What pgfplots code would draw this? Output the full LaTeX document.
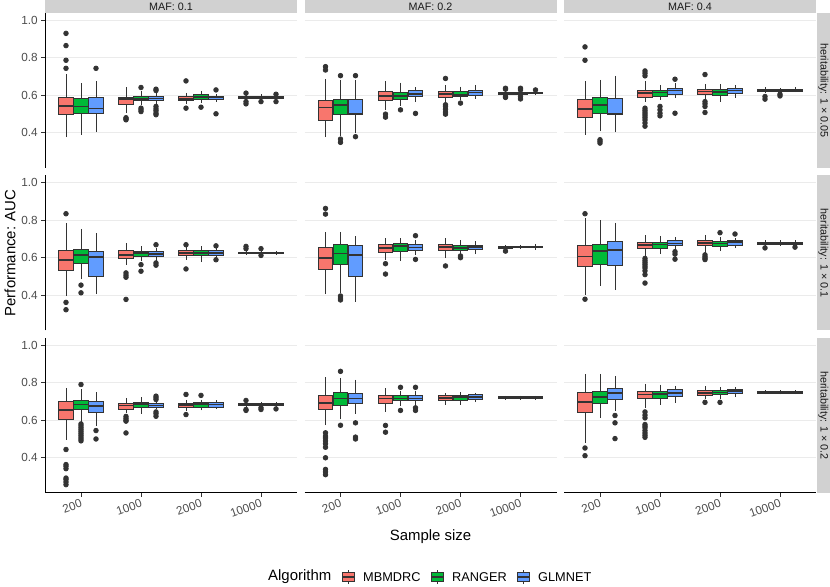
\documentclass[border=0pt]{standalone}
\usepackage{pgfplots}
\pgfplotsset{compat=1.18}
\usepgfplotslibrary{statistics}
\usepackage{fontspec}
\setmainfont{Liberation Sans}

\definecolor{cM}{HTML}{F8766D}
\definecolor{cR}{HTML}{00BA38}
\definecolor{cG}{HTML}{619CFF}
\definecolor{dk}{HTML}{333333}
\definecolor{tk}{HTML}{4D4D4D}
\definecolor{gr}{HTML}{EBEBEB}
\definecolor{st}{HTML}{D1D1D1}

% one box: colour, position, lower whisker, q1, median, q3, upper whisker, outliers
\newcommand{\bx}[8]{%
  \addplot[draw=dk, line width=0.8bp, fill=#1, mark=*, mark size=2.3bp,
    mark options={draw=dk, fill=dk},
    boxplot prepared={draw direction=y, draw position=#2, lower whisker=#3,
      lower quartile=#4, median=#5, upper quartile=#6, upper whisker=#7,
      box extend=0.24, whisker extend=0}]
  coordinates {#8};}

\pgfplotsset{
  panel/.style={
    scale only axis, width=252bp, height=155bp,
    xmin=0.4, xmax=4.6, ymin=0.2125, ymax=1.0375,
    axis line style={draw=none},
    xtick pos=left, ytick pos=left,
    xtick={1,2,3,4}, ytick={0.4,0.6,0.8,1.0},
    xticklabels={}, yticklabels={},
    xtick style={draw=none}, ytick style={draw=none},
    tick align=outside, major tick length=3.7bp,
    ymajorgrids, major grid style={draw=gr, line width=0.9bp},
    boxplot/every median/.style={draw=dk, line width=1.7bp},
    anchor=south west,
  },
  leftax/.style={
    ytick style={draw=dk, line width=1bp},
    yticklabels={0.4,0.6,0.8,1.0},
    yticklabel style={font=\fontsize{11.8}{12}\selectfont, text=tk},
    extra description/.append code={
      \draw[black, line width=1bp] (axis description cs:0,0) -- (axis description cs:0,1);},
  },
  bottomax/.style={
    xtick style={draw=dk, line width=1bp},
    xticklabels={200,1000,2000,10000},
    xticklabel style={font=\fontsize{11.8}{12}\selectfont, text=tk,
      rotate=20, anchor=north east, inner sep=1.5bp},
    extra description/.append code={
      \draw[black, line width=1bp] (axis description cs:0,0) -- (axis description cs:1,0);},
  },
}

\begin{document}
\begin{tikzpicture}
\path[use as bounding box] (0,0) rectangle (830bp,587bp);

% ---- row 1: heritability 0.05 ----
\begin{axis}[panel, leftax, at={(45bp,419bp)}]
\bx{cM}{0.75}{0.375}{0.496}{0.543}{0.589}{0.713}{(0,0.929)(0,0.864)(0,0.786)(0,0.743)}
\bx{cR}{1}{0.389}{0.501}{0.540}{0.581}{0.664}{}
\bx{cG}{1.25}{0.403}{0.501}{0.529}{0.588}{0.673}{(0,0.743)}
\bx{cM}{1.75}{0.504}{0.552}{0.581}{0.588}{0.641}{(0,0.480)(0,0.474)(0,0.469)}
\bx{cR}{2}{0.549}{0.570}{0.581}{0.595}{0.620}{(0,0.641)(0,0.531)(0,0.522)(0,0.513)}
\bx{cG}{2.25}{0.550}{0.572}{0.582}{0.595}{0.620}{(0,0.632)(0,0.625)(0,0.540)(0,0.527)(0,0.517)(0,0.504)(0,0.496)}
\bx{cM}{2.75}{0.554}{0.570}{0.579}{0.596}{0.614}{(0,0.676)(0,0.531)}
\bx{cR}{3}{0.558}{0.575}{0.589}{0.602}{0.623}{(0,0.536)}
\bx{cG}{3.25}{0.566}{0.577}{0.588}{0.596}{0.607}{(0,0.628)(0,0.501)}
\bx{cM}{3.75}{0.575}{0.582}{0.588}{0.593}{0.600}{(0,0.611)(0,0.566)(0,0.554)}
\bx{cR}{4}{0.572}{0.582}{0.588}{0.593}{0.605}{(0,0.566)}
\bx{cG}{4.25}{0.575}{0.583}{0.588}{0.593}{0.600}{(0,0.605)(0,0.566)}
\end{axis}

\begin{axis}[panel, at={(304.5bp,419bp)}]
\bx{cM}{0.75}{0.375}{0.466}{0.535}{0.570}{0.687}{(0,0.752)(0,0.734)}
\bx{cR}{1}{0.381}{0.499}{0.549}{0.579}{0.681}{(0,0.704)(0,0.366)(0,0.349)}
\bx{cG}{1.25}{0.398}{0.499}{0.503}{0.575}{0.681}{(0,0.704)(0,0.379)}
\bx{cM}{1.75}{0.519}{0.572}{0.595}{0.618}{0.673}{(0,0.499)(0,0.483)}
\bx{cR}{2}{0.543}{0.579}{0.596}{0.614}{0.667}{(0,0.522)}
\bx{cG}{2.25}{0.563}{0.591}{0.607}{0.623}{0.642}{(0,0.503)}
\bx{cM}{2.75}{0.566}{0.589}{0.605}{0.619}{0.655}{(0,0.689)(0,0.549)(0,0.540)(0,0.525)(0,0.510)(0,0.499)}
\bx{cR}{3}{0.575}{0.595}{0.602}{0.618}{0.646}{(0,0.558)}
\bx{cG}{3.25}{0.582}{0.600}{0.614}{0.625}{0.655}{}
\bx{cM}{3.75}{0.598}{0.606}{0.611}{0.615}{0.624}{(0,0.637)(0,0.632)(0,0.593)(0,0.588)}
\bx{cR}{4}{0.600}{0.606}{0.611}{0.615}{0.622}{(0,0.637)(0,0.628)(0,0.593)(0,0.580)}
\bx{cG}{4.25}{0.602}{0.607}{0.611}{0.615}{0.620}{(0,0.628)}
\end{axis}

\begin{axis}[panel, at={(564bp,419bp)}]
\bx{cM}{0.75}{0.389}{0.480}{0.527}{0.579}{0.673}{(0,0.857)(0,0.786)}
\bx{cR}{1}{0.407}{0.503}{0.549}{0.588}{0.681}{(0,0.363)(0,0.354)(0,0.345)}
\bx{cG}{1.25}{0.402}{0.498}{0.501}{0.584}{0.704}{}
\bx{cM}{1.75}{0.566}{0.589}{0.611}{0.628}{0.673}{(0,0.729)(0,0.717)(0,0.703)(0,0.531)(0,0.520)(0,0.510)(0,0.500)(0,0.490)(0,0.480)(0,0.468)(0,0.452)(0,0.435)}
\bx{cR}{2}{0.575}{0.593}{0.614}{0.623}{0.655}{(0,0.540)(0,0.522)(0,0.504)(0,0.490)}
\bx{cG}{2.25}{0.584}{0.605}{0.625}{0.635}{0.664}{(0,0.685)(0,0.504)}
\bx{cM}{2.75}{0.579}{0.602}{0.620}{0.632}{0.660}{(0,0.710)(0,0.566)(0,0.554)(0,0.540)(0,0.508)}
\bx{cR}{3}{0.566}{0.600}{0.618}{0.632}{0.657}{}
\bx{cG}{3.25}{0.584}{0.609}{0.625}{0.637}{0.655}{}
\bx{cM}{3.75}{0.611}{0.620}{0.627}{0.632}{0.642}{(0,0.593)(0,0.579)}
\bx{cR}{4}{0.614}{0.621}{0.627}{0.631}{0.639}{(0,0.605)(0,0.596)}
\bx{cG}{4.25}{0.616}{0.622}{0.627}{0.631}{0.641}{}
\end{axis}

% ---- row 2: heritability 0.1 ----
\begin{axis}[panel, leftax, at={(45bp,256.5bp)}]
\bx{cM}{0.75}{0.396}{0.531}{0.588}{0.639}{0.783}{(0,0.834)(0,0.362)(0,0.323)}
\bx{cR}{1}{0.484}{0.568}{0.616}{0.644}{0.753}{(0,0.454)(0,0.413)}
\bx{cG}{1.25}{0.406}{0.501}{0.602}{0.633}{0.730}{}
\bx{cM}{1.75}{0.563}{0.595}{0.616}{0.639}{0.676}{(0,0.519)(0,0.507)(0,0.496)(0,0.378)}
\bx{cR}{2}{0.581}{0.607}{0.625}{0.635}{0.662}{(0,0.563)(0,0.528)}
\bx{cG}{2.25}{0.581}{0.607}{0.619}{0.632}{0.651}{(0,0.669)(0,0.572)(0,0.560)}
\bx{cM}{2.75}{0.589}{0.611}{0.625}{0.637}{0.655}{(0,0.669)(0,0.540)}
\bx{cR}{3}{0.577}{0.611}{0.625}{0.639}{0.660}{}
\bx{cG}{3.25}{0.589}{0.612}{0.626}{0.637}{0.650}{(0,0.663)(0,0.589)}
\bx{cM}{3.75}{0.616}{0.622}{0.626}{0.630}{0.640}{(0,0.660)(0,0.648)}
\bx{cR}{4}{0.614}{0.622}{0.626}{0.630}{0.640}{(0,0.648)(0,0.612)}
\bx{cG}{4.25}{0.616}{0.622}{0.626}{0.630}{0.636}{}
\end{axis}

\begin{axis}[panel, at={(304.5bp,256.5bp)}]
\bx{cM}{0.75}{0.405}{0.540}{0.600}{0.655}{0.736}{(0,0.862)(0,0.832)}
\bx{cR}{1}{0.410}{0.566}{0.623}{0.671}{0.738}{(0,0.396)(0,0.385)(0,0.375)}
\bx{cG}{1.25}{0.366}{0.500}{0.614}{0.666}{0.715}{}
\bx{cM}{1.75}{0.588}{0.628}{0.650}{0.671}{0.703}{(0,0.568)(0,0.513)}
\bx{cR}{2}{0.582}{0.635}{0.662}{0.676}{0.703}{}
\bx{cG}{2.25}{0.614}{0.641}{0.655}{0.673}{0.694}{(0,0.717)(0,0.591)}
\bx{cM}{2.75}{0.596}{0.637}{0.657}{0.673}{0.703}{(0,0.556)}
\bx{cR}{3}{0.618}{0.639}{0.653}{0.667}{0.694}{(0,0.609)(0,0.600)}
\bx{cG}{3.25}{0.618}{0.644}{0.657}{0.667}{0.689}{}
\bx{cM}{3.75}{0.645}{0.652}{0.657}{0.661}{0.668}{(0,0.635)}
\bx{cR}{4}{0.646}{0.653}{0.657}{0.660}{0.668}{}
\bx{cG}{4.25}{0.642}{0.653}{0.657}{0.660}{0.671}{}
\end{axis}

\begin{axis}[panel, at={(564bp,256.5bp)}]
\bx{cM}{0.75}{0.402}{0.554}{0.607}{0.666}{0.812}{(0,0.834)(0,0.379)}
\bx{cR}{1}{0.450}{0.565}{0.637}{0.673}{0.800}{}
\bx{cG}{1.25}{0.427}{0.557}{0.642}{0.688}{0.786}{}
\bx{cM}{1.75}{0.610}{0.649}{0.667}{0.683}{0.719}{(0,0.596)(0,0.585)(0,0.575)(0,0.565)(0,0.555)(0,0.545)(0,0.530)(0,0.510)(0,0.465)}
\bx{cR}{2}{0.619}{0.649}{0.671}{0.683}{0.716}{}
\bx{cG}{2.25}{0.640}{0.665}{0.675}{0.690}{0.711}{(0,0.632)(0,0.619)(0,0.592)}
\bx{cM}{2.75}{0.621}{0.664}{0.678}{0.692}{0.722}{(0,0.615)(0,0.605)(0,0.597)(0,0.590)}
\bx{cR}{3}{0.635}{0.662}{0.675}{0.687}{0.710}{(0,0.733)}
\bx{cG}{3.25}{0.649}{0.667}{0.682}{0.692}{0.703}{(0,0.726)}
\bx{cM}{3.75}{0.662}{0.672}{0.678}{0.683}{0.692}{(0,0.652)}
\bx{cR}{4}{0.662}{0.672}{0.678}{0.683}{0.694}{}
\bx{cG}{4.25}{0.664}{0.672}{0.678}{0.683}{0.692}{(0,0.656)}
\end{axis}

% ---- row 3: heritability 0.2 ----
\begin{axis}[panel, leftax, bottomax, at={(45bp,94bp)}]
\bx{cM}{0.75}{0.497}{0.604}{0.653}{0.701}{0.772}{(0,0.444)(0,0.364)(0,0.355)(0,0.342)(0,0.292)(0,0.284)(0,0.271)(0,0.257)}
\bx{cR}{1}{0.591}{0.657}{0.684}{0.705}{0.764}{(0,0.790)(0,0.580)(0,0.570)(0,0.560)(0,0.550)(0,0.540)(0,0.530)(0,0.520)(0,0.510)(0,0.500)(0,0.490)}
\bx{cG}{1.25}{0.568}{0.643}{0.675}{0.701}{0.749}{(0,0.545)(0,0.500)}
\bx{cM}{1.75}{0.639}{0.659}{0.678}{0.689}{0.719}{(0,0.620)(0,0.610)(0,0.600)(0,0.595)(0,0.532)}
\bx{cR}{2}{0.634}{0.666}{0.687}{0.696}{0.723}{}
\bx{cG}{2.25}{0.657}{0.666}{0.678}{0.689}{0.705}{(0,0.728)(0,0.719)(0,0.710)(0,0.644)(0,0.635)(0,0.621)}
\bx{cM}{2.75}{0.648}{0.666}{0.680}{0.692}{0.710}{(0,0.737)(0,0.630)}
\bx{cR}{3}{0.652}{0.669}{0.687}{0.696}{0.710}{(0,0.732)}
\bx{cG}{3.25}{0.657}{0.669}{0.684}{0.694}{0.705}{}
\bx{cM}{3.75}{0.670}{0.678}{0.684}{0.689}{0.697}{(0,0.705)(0,0.657)(0,0.652)}
\bx{cR}{4}{0.670}{0.678}{0.684}{0.689}{0.697}{(0,0.666)(0,0.657)}
\bx{cG}{4.25}{0.670}{0.678}{0.684}{0.689}{0.697}{(0,0.660)}
\end{axis}

\begin{axis}[panel, bottomax, at={(304.5bp,94bp)}]
\bx{cM}{0.75}{0.573}{0.658}{0.692}{0.733}{0.829}{(0,0.533)(0,0.515)(0,0.505)(0,0.490)(0,0.475)(0,0.456)(0,0.400)(0,0.338)(0,0.325)(0,0.310)}
\bx{cR}{1}{0.604}{0.678}{0.715}{0.746}{0.825}{(0,0.860)(0,0.573)}
\bx{cG}{1.25}{0.634}{0.692}{0.715}{0.742}{0.816}{(0,0.586)(0,0.510)(0,0.500)}
\bx{cM}{1.75}{0.644}{0.692}{0.715}{0.733}{0.770}{(0,0.572)(0,0.536)}
\bx{cR}{2}{0.678}{0.705}{0.715}{0.731}{0.754}{(0,0.775)(0,0.652)}
\bx{cG}{2.25}{0.675}{0.703}{0.715}{0.733}{0.758}{(0,0.775)(0,0.666)(0,0.652)}
\bx{cM}{2.75}{0.683}{0.703}{0.717}{0.730}{0.746}{}
\bx{cR}{3}{0.683}{0.707}{0.723}{0.733}{0.749}{}
\bx{cG}{3.25}{0.695}{0.710}{0.724}{0.737}{0.747}{}
\bx{cM}{3.75}{0.708}{0.716}{0.720}{0.724}{0.731}{}
\bx{cR}{4}{0.708}{0.716}{0.720}{0.724}{0.731}{}
\bx{cG}{4.25}{0.708}{0.716}{0.720}{0.724}{0.731}{}
\end{axis}

\begin{axis}[panel, bottomax, at={(564bp,94bp)}]
\bx{cM}{0.75}{0.479}{0.639}{0.698}{0.747}{0.847}{(0,0.452)(0,0.411)}
\bx{cR}{1}{0.612}{0.690}{0.724}{0.753}{0.847}{}
\bx{cG}{1.25}{0.648}{0.713}{0.745}{0.771}{0.836}{(0,0.625)(0,0.586)(0,0.502)}
\bx{cM}{1.75}{0.666}{0.714}{0.736}{0.753}{0.795}{(0,0.644)(0,0.627)(0,0.612)(0,0.577)(0,0.568)(0,0.559)(0,0.545)(0,0.532)(0,0.520)(0,0.509)}
\bx{cR}{2}{0.683}{0.718}{0.739}{0.753}{0.789}{}
\bx{cG}{2.25}{0.692}{0.725}{0.745}{0.762}{0.784}{}
\bx{cM}{2.75}{0.714}{0.734}{0.746}{0.759}{0.780}{(0,0.695)}
\bx{cR}{3}{0.714}{0.736}{0.748}{0.759}{0.778}{(0,0.695)}
\bx{cG}{3.25}{0.721}{0.741}{0.755}{0.766}{0.775}{}
\bx{cM}{3.75}{0.737}{0.743}{0.748}{0.752}{0.759}{}
\bx{cR}{4}{0.737}{0.743}{0.748}{0.752}{0.759}{}
\bx{cG}{4.25}{0.737}{0.743}{0.748}{0.752}{0.759}{}
\end{axis}

% ---- strips, titles, legend ----
\begin{scope}[x=1bp, y=1bp, font=\fontsize{10.8}{12}\selectfont]
  \fill[st] (45,574) rectangle (297,587);
  \fill[st] (304.5,574) rectangle (556.5,587);
  \fill[st] (564,574) rectangle (816,587);
  \node[text=black!90] at (171,580.5) {MAF: 0.1};
  \node[text=black!90] at (430.5,580.5) {MAF: 0.2};
  \node[text=black!90] at (690,580.5) {MAF: 0.4};
  \fill[st] (817,419) rectangle (830,574);
  \fill[st] (817,256.5) rectangle (830,411.5);
  \fill[st] (817,94) rectangle (830,249);
  \node[rotate=-90, text=black!90] at (823.5,496.5) {heritability: 1 × 0.05};
  \node[rotate=-90, text=black!90] at (823.5,334) {heritability: 1 × 0.1};
  \node[rotate=-90, text=black!90] at (823.5,171.5) {heritability: 1 × 0.2};

  \node[rotate=90, font=\fontsize{15}{18}\selectfont] at (10,334) {Performance: AUC};
  \node[font=\fontsize{15}{18}\selectfont] at (430.5,50) {Sample size};

  \node[anchor=west, inner sep=0pt, font=\fontsize{15}{18}\selectfont] at (268,10) {Algorithm};
  \foreach \c/\xk/\lab in {cM/342/MBMDRC, cR/431/RANGER, cG/517/GLMNET}{
    \draw[dk, line width=0.8bp] (\xk+6,3) -- (\xk+6,17);
    \filldraw[fill=\c, draw=dk, line width=0.8bp] (\xk,5.5) rectangle (\xk+12,14.5);
    \draw[dk, line width=1.5bp] (\xk,10) -- (\xk+12,10);
    \node[anchor=west, inner sep=0pt, font=\fontsize{12.8}{15}\selectfont] at (\xk+21,10) {\lab};
  }
\end{scope}
\end{tikzpicture}
\end{document}
